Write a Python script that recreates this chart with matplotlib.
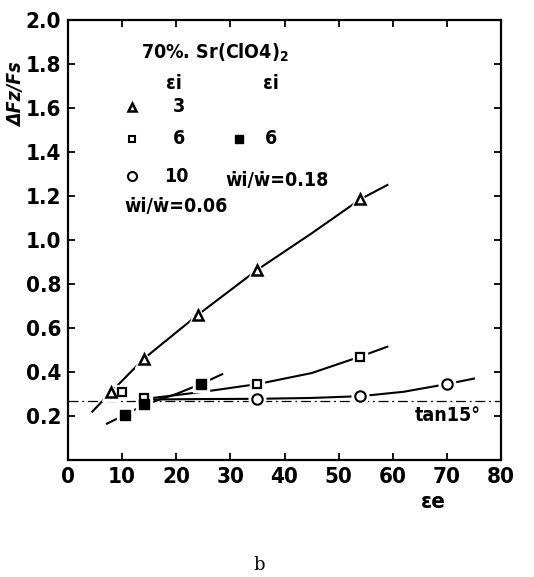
import numpy as np
import matplotlib.pyplot as plt

plt.rcParams['font.family'] = ['DejaVu Sans']
plt.rcParams['font.stretch'] = 'condensed'
plt.rcParams['font.weight'] = 'bold'

# measured points (eps_e, dFz/Fs)
tri_x = [8, 14, 24, 35, 54]
tri_y = [0.31, 0.46, 0.66, 0.865, 1.185]
osq_x = [10, 14, 35, 54]
osq_y = [0.31, 0.28, 0.345, 0.47]
fsq_x = [10.5, 14, 24.5]
fsq_y = [0.205, 0.255, 0.345]
cir_x = [35, 54, 70]
cir_y = [0.275, 0.29, 0.345]

# hand drawn trend curves
tri_cx = [4.5, 8, 14, 24, 35, 45, 54, 59]
tri_cy = [0.22, 0.31, 0.46, 0.66, 0.865, 1.03, 1.185, 1.25]
osq_cx = [15, 25, 35, 45, 54, 59]
osq_cy = [0.28, 0.31, 0.345, 0.395, 0.47, 0.515]
fsq_cx = [7.2, 10.5, 14, 20, 24.5, 28.5]
fsq_cy = [0.165, 0.205, 0.25, 0.3, 0.345, 0.39]
cir_cx = [15, 25, 35, 45, 54, 62, 70, 75]
cir_cy = [0.275, 0.277, 0.278, 0.282, 0.29, 0.31, 0.345, 0.37]

tan15 = np.tan(np.radians(15))

fig = plt.figure(figsize=(5.34, 5.77), dpi=100)
ax = fig.add_axes([0.1273, 0.2028, 0.811, 0.7626])

ax.axhline(tan15, color='black', lw=0.9, dashes=(8, 3, 1.5, 3))

lw = 1.5
ax.plot(tri_cx, tri_cy, color='black', lw=lw)
ax.plot(osq_cx, osq_cy, color='black', lw=lw)
ax.plot(fsq_cx, fsq_cy, color='black', lw=lw)
ax.plot(cir_cx, cir_cy, color='black', lw=lw)

# white halos so the curves break around the symbols
ax.plot(tri_x, tri_y, '^', ms=13, color='white', zorder=3)
ax.plot(osq_x, osq_y, 's', ms=10, color='white', zorder=3)
ax.plot(fsq_x, fsq_y, 's', ms=12, color='white', zorder=3)
ax.plot(cir_x, cir_y, 'o', ms=12, color='white', zorder=3)

ax.plot(tri_x, tri_y, '^', ms=7, mfc='white', mec='black', mew=1.8, zorder=4)
ax.plot(osq_x, osq_y, 's', ms=5.5, mfc='white', mec='black', mew=1.6, zorder=4)
ax.plot(fsq_x, fsq_y, 's', ms=6.5, mfc='black', mec='black', zorder=4)
ax.plot(cir_x, cir_y, 'o', ms=7.5, mfc='white', mec='black', mew=1.5, zorder=4)

ax.set_xlim(0, 80)
ax.set_ylim(0, 2.0)
ax.set_xticks(range(0, 81, 10))
ax.set_yticks(np.arange(0.2, 2.01, 0.2))
ax.set_yticklabels(['%.1f' % v for v in np.arange(0.2, 2.01, 0.2)])
ax.tick_params(direction='in', length=5, width=1.3, labelsize=16, pad=5,
               top=True, right=True)
for s in ax.spines.values():
    s.set_linewidth(1.6)

# key
fs = 14
ax.text(13.5, 1.85, r'70%. Sr(ClO4)$_2$', fontsize=fs, va='center')
ax.text(19.5, 1.71, 'εi', fontsize=fs, va='center', ha='center')
ax.text(37.5, 1.71, 'εi', fontsize=fs, va='center', ha='center')
ax.plot([11.8], [1.605], '^', ms=6, mfc='white', mec='black', mew=1.8)
ax.text(20.5, 1.605, '3', fontsize=fs, va='center', ha='center')
ax.plot([11.8], [1.46], 's', ms=5, mfc='white', mec='black', mew=1.5)
ax.text(20.5, 1.46, '6', fontsize=fs, va='center', ha='center')
ax.plot([31.5], [1.46], 's', ms=6, color='black')
ax.text(37.5, 1.46, '6', fontsize=fs, va='center', ha='center')
ax.plot([11.8], [1.29], 'o', ms=6.5, mfc='white', mec='black', mew=1.5)
ax.text(20, 1.29, '10', fontsize=fs, va='center', ha='center')
ax.text(29, 1.27, 'ẇi/ẇ=0.18', fontsize=fs, va='center')
ax.text(10.5, 1.15, 'ẇi/ẇ=0.06', fontsize=fs, va='center')
ax.text(64, 0.2, 'tan15°', fontsize=fs, va='center')

ax.text(-0.118, 0.83, 'ΔFz/Fs', transform=ax.transAxes, rotation=90,
        fontsize=14, va='center', ha='center', style='italic')
ax.text(0.843, -0.095, 'εe', transform=ax.transAxes, fontsize=16,
        va='center', ha='center')
fig.text(0.485, 0.021, 'b', fontsize=13, family='DejaVu Serif',
         weight='normal', stretch='normal', ha='center', va='center')

plt.savefig('out.png', dpi=100)
